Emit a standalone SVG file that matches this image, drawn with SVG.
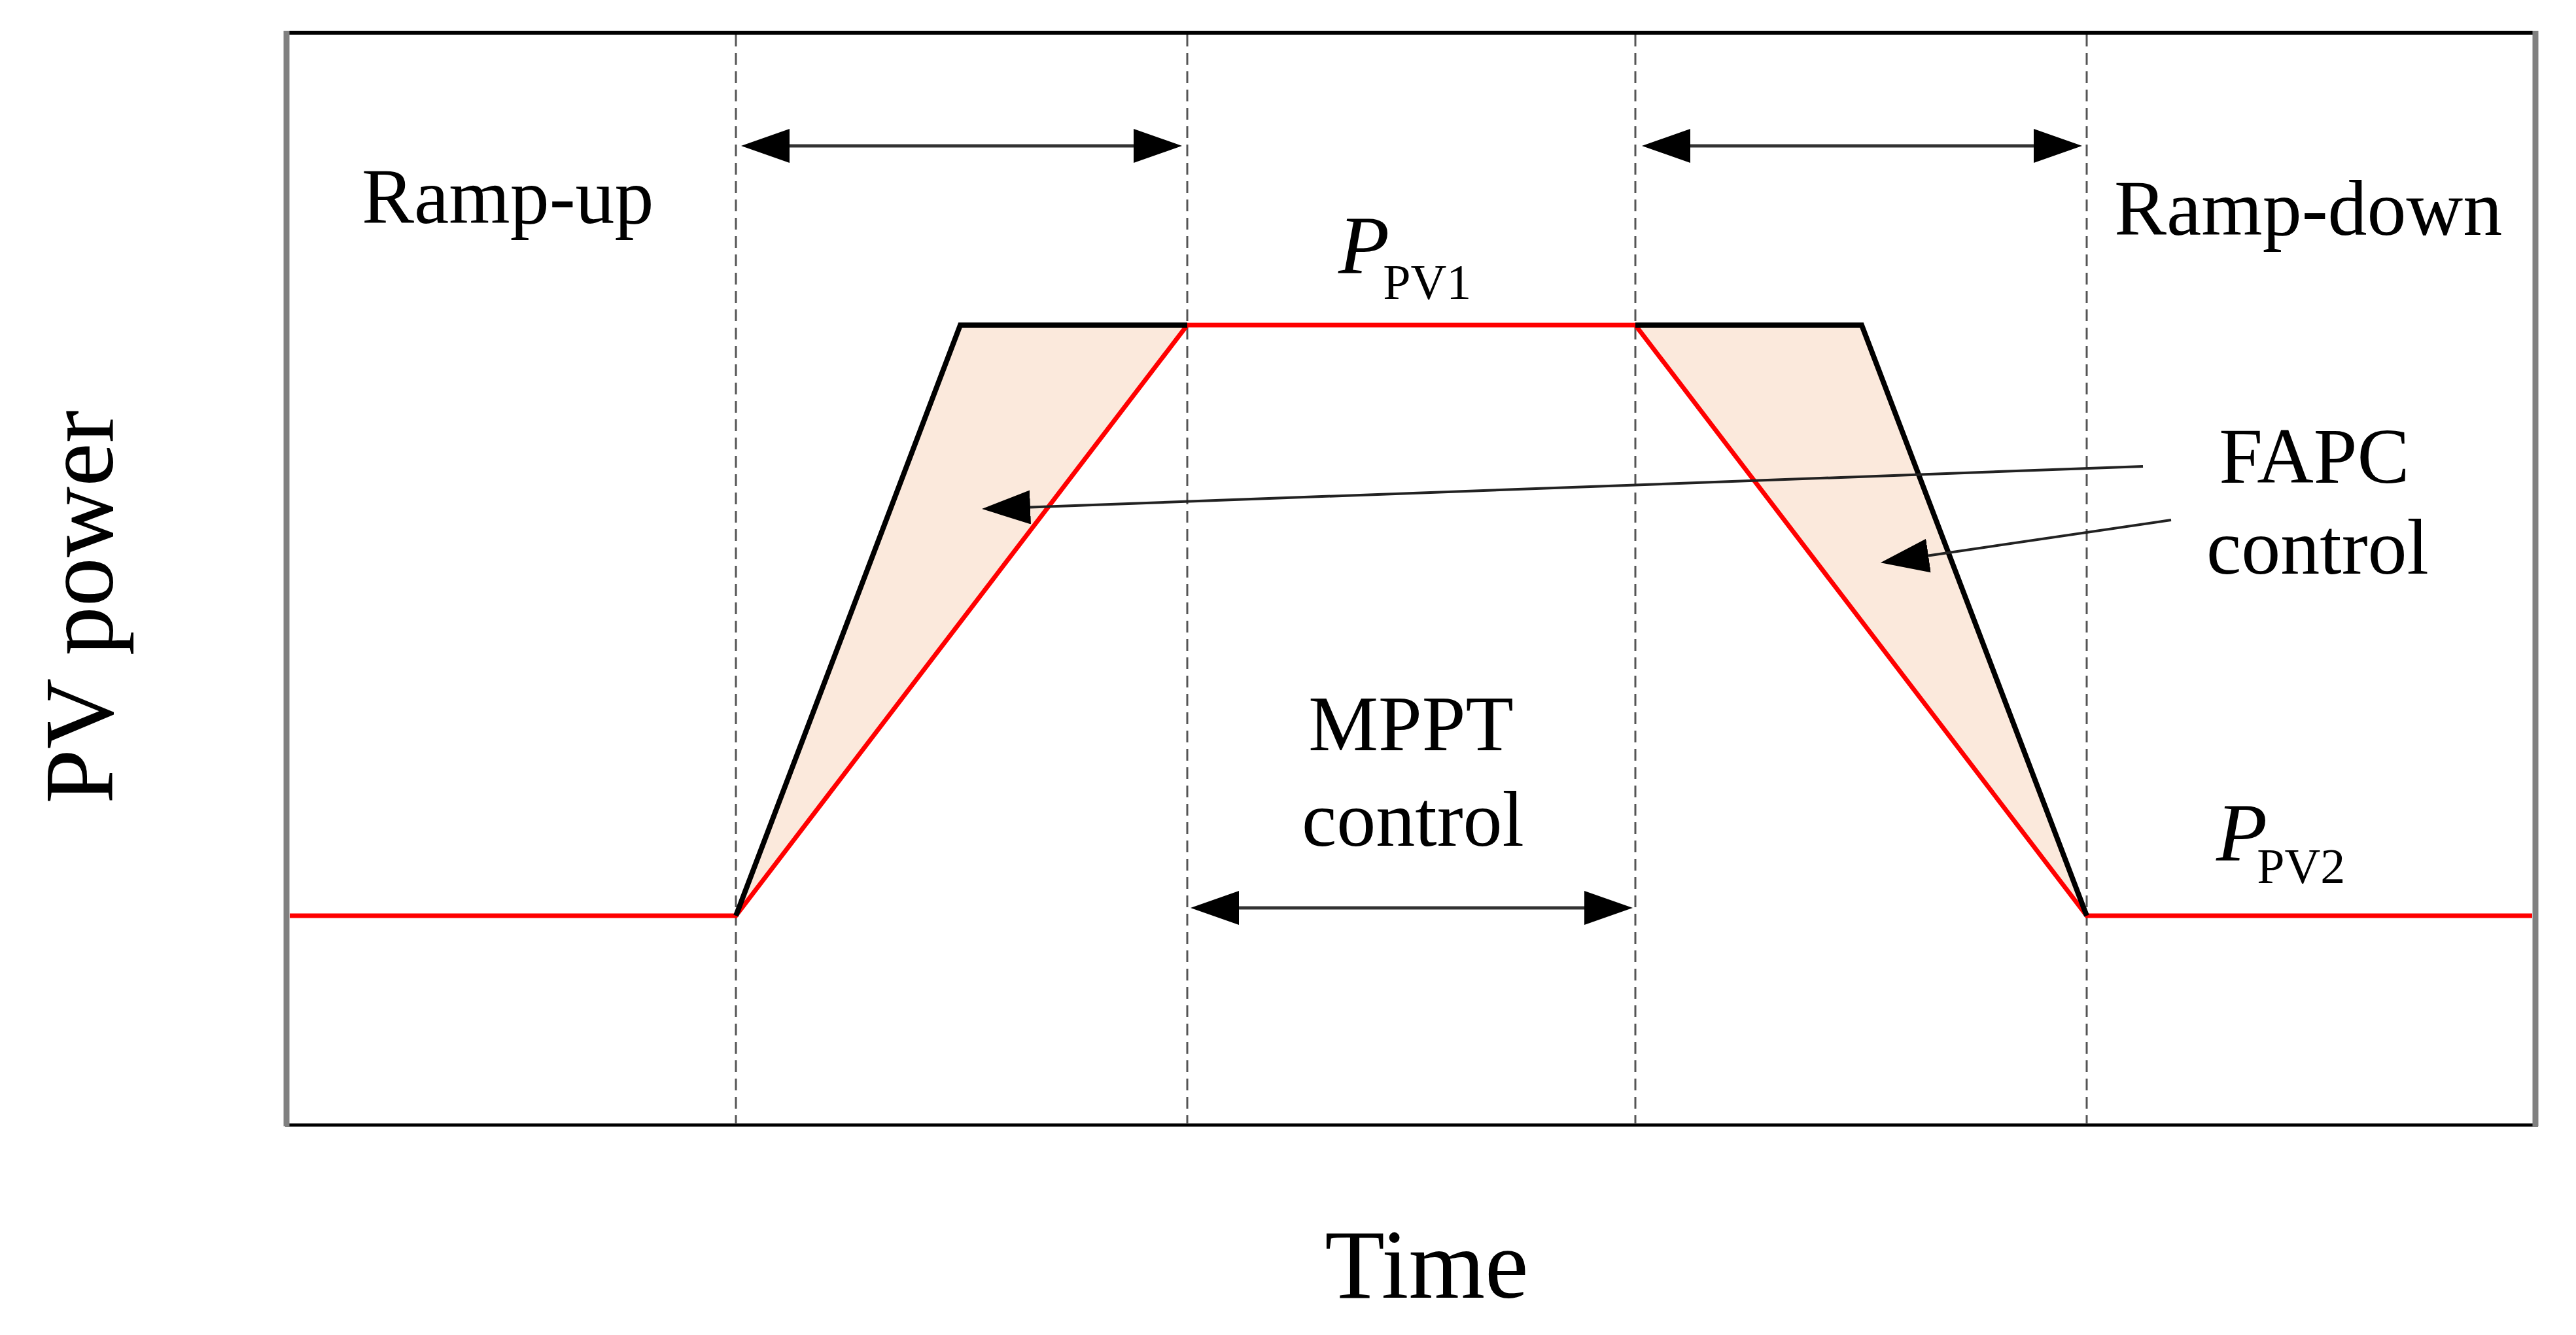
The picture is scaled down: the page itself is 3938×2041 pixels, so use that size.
<svg xmlns="http://www.w3.org/2000/svg" width="3938" height="2041" viewBox="0 0 3938 2041">
<style>
.txt{font-family:"Liberation Serif","Times New Roman",serif;fill:#000}
.lbl{font-size:120px}
.dash{stroke:#555;stroke-width:3;stroke-dasharray:18 10;fill:none}
.red{stroke:#ff0000;stroke-width:7;fill:none}
.blk{stroke:#000;stroke-width:8;fill:none;stroke-linejoin:miter}
.fill{fill:#fbe9dc;stroke:none}
.dbl{stroke:#333;stroke-width:5;fill:none;marker-start:url(#ah);marker-end:url(#ah)}
.ptr{stroke:#222;stroke-width:4;fill:none;marker-end:url(#ah)}
</style>
<defs>
<marker id="ah" markerUnits="userSpaceOnUse" markerWidth="74" markerHeight="52" viewBox="0 0 74 52" refX="0" refY="26" orient="auto-start-reverse">
<path d="M0,0 L74,26 L0,52 z" fill="#000"/>
</marker>
</defs>
<rect width="3938" height="2041" fill="#fff"/>
<g id="frame">
<line x1="436" y1="50" x2="3880" y2="50" stroke="#000" stroke-width="6"/>
<line x1="436" y1="1720" x2="3880" y2="1720" stroke="#000" stroke-width="5"/>
<line x1="438" y1="47" x2="438" y2="1722" stroke="#808080" stroke-width="9"/>
<line x1="3876" y1="47" x2="3876" y2="1722" stroke="#808080" stroke-width="9"/>
</g>
<g id="fills">
<polygon class="fill" points="1125,1400 1468,497 1815,497"/>
<polygon class="fill" points="2500,497 2846,497 3190,1400"/>
</g>
<g id="dividers">
<line class="dash" x1="1125" y1="53" x2="1125" y2="1718"/>
<line class="dash" x1="1815" y1="53" x2="1815" y2="1718"/>
<line class="dash" x1="2500" y1="53" x2="2500" y2="1718"/>
<line class="dash" x1="3190" y1="53" x2="3190" y2="1718"/>
</g>
<g id="mppt-curve">
<polyline class="red" points="443,1400 1125,1400 1815,497 2500,497 3190,1400 3871,1400"/>
</g>
<g id="fapc-curve">
<polyline class="blk" points="1125,1400 1468,497 1815,497"/>
<polyline class="blk" points="2500,497 2846,497 3190,1400"/>
</g>
<g id="connectors">
<line class="dbl" x1="1207" y1="223" x2="1733" y2="223"/>
<line class="dbl" x1="2584" y1="223" x2="3109" y2="223"/>
<line class="dbl" x1="1894" y1="1388" x2="2422" y2="1388"/>
<line class="ptr" x1="3276" y1="713" x2="1575" y2="775.4"/>
<line class="ptr" x1="3319" y1="795" x2="2948" y2="849.5"/>
</g>
<g id="label-rampup"><text class="txt lbl" x="553" y="341">Ramp-up</text></g>
<g id="label-rampdown"><text class="txt lbl" x="3232" y="359">Ramp-down</text></g>
<g id="label-fapc">
<text class="txt lbl" x="3538" y="738" text-anchor="middle">FAPC</text>
<text class="txt lbl" x="3543" y="877" text-anchor="middle">control</text>
</g>
<g id="label-mppt">
<text class="txt lbl" x="2157" y="1147" text-anchor="middle">MPPT</text>
<text class="txt lbl" x="2160" y="1293" text-anchor="middle">control</text>
</g>
<g id="label-ppv1">
<text class="txt" x="2046" y="418"><tspan font-size="128" font-style="italic">P</tspan><tspan font-size="76" dx="-10" dy="39">PV1</tspan></text>
</g>
<g id="label-ppv2">
<text class="txt" x="3388" y="1316"><tspan font-size="128" font-style="italic">P</tspan><tspan font-size="76" dx="-16" dy="34">PV2</tspan></text>
</g>
<g id="axis-x"><text class="txt" x="2181" y="1984" font-size="150" text-anchor="middle">Time</text></g>
<g id="axis-y"><text class="txt" transform="translate(172,928) rotate(-90)" font-size="150" text-anchor="middle">PV power</text></g>
</svg>
